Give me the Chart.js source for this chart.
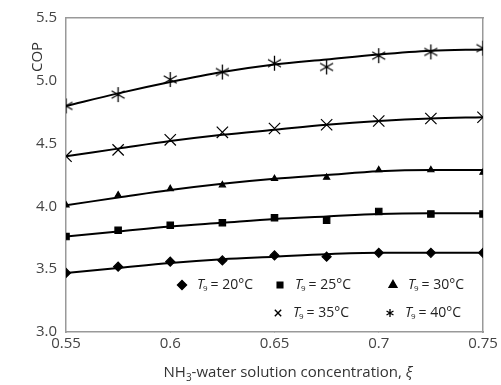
<!DOCTYPE html>
<html>
<head>
<meta charset="utf-8">
<script src="https://cdn.jsdelivr.net/npm/chart.js@4/dist/chart.umd.min.js"></script>
<style>
  body { margin: 0; background: #fff; }
  #wrap { width: 501px; height: 385px; }
</style>
</head>
<body>
<div id="wrap"><canvas id="myChart" width="501" height="385"></canvas></div>
<script>
// concentration values (x)
let xi = [0.55, 0.575, 0.6, 0.625, 0.65, 0.675, 0.7, 0.725, 0.75];

// measured COP points for each T9
let cop20 = [3.47, 3.52, 3.56, 3.57, 3.61, 3.60, 3.63, 3.63, 3.63];
let cop25 = [3.76, 3.81, 3.85, 3.87, 3.91, 3.89, 3.96, 3.94, 3.94];
let cop30 = [4.01, 4.09, 4.14, 4.17, 4.22, 4.23, 4.29, 4.29, 4.27];
let cop35 = [4.40, 4.45, 4.53, 4.59, 4.62, 4.65, 4.68, 4.70, 4.71];
let cop40 = [4.80, 4.89, 5.01, 5.07, 5.14, 5.11, 5.20, 5.23, 5.26];

// trend lines
let fit20 = [3.47, 3.51, 3.55, 3.58, 3.60, 3.62, 3.63, 3.63, 3.63];
let fit25 = [3.76, 3.80, 3.84, 3.87, 3.90, 3.92, 3.94, 3.945, 3.945];
let fit30 = [4.01, 4.07, 4.13, 4.18, 4.22, 4.25, 4.28, 4.29, 4.29];
let fit35 = [4.40, 4.46, 4.52, 4.57, 4.61, 4.65, 4.68, 4.70, 4.71];
let fit40 = [4.80, 4.90, 4.99, 5.07, 5.13, 5.17, 5.21, 5.24, 5.25];

let legendLabels = ["20°C", "25°C", "30°C", "35°C", "40°C"];
let yTicks = [3.0, 3.5, 4.0, 4.5, 5.0, 5.5];

// 6-armed asterisk marker
function asterisk(size) {
    let c = document.createElement('canvas');
    c.width = size; c.height = size;
    let g = c.getContext('2d');
    let m = size / 2, r = size / 2 - 1;
    g.strokeStyle = '#000';
    g.lineWidth = 1.3;
    g.beginPath();
    for (let a of [90, 30, 150]) {
        let t = a * Math.PI / 180;
        g.moveTo(m - r * Math.cos(t), m - r * Math.sin(t));
        g.lineTo(m + r * Math.cos(t), m + r * Math.sin(t));
    }
    g.stroke();
    return c;
}
let starImg = asterisk(17);
let starSmall = asterisk(10);

function pts(ys) {
    return xi.map((x, i) => ({x: x, y: ys[i]}));
}

function markers(ys, style, radius) {
    return {
        data: pts(ys),
        showLine: false,
        pointStyle: style,
        pointRadius: radius,
        pointBorderColor: '#000',
        pointBackgroundColor: '#000',
        pointBorderWidth: 1.2
    };
}

function fitLine(ys) {
    return {
        type: 'line',
        data: pts(ys),
        borderColor: '#000',
        borderWidth: 2,
        pointRadius: 0,
        cubicInterpolationMode: 'monotone',
        fill: false
    };
}

let canvas = document.getElementById("myChart")
let ctx = canvas.getContext("2d")

// axis titles and the custom legend
let extras = {
    id: 'extras',
    afterDraw(chart) {
        let g = chart.ctx;
        g.save();
        g.fillStyle = '#333';
        g.font = '15px "Open Sans", "Noto Sans", sans-serif';
        g.textAlign = 'center';
        g.textBaseline = 'middle';
        // x title with subscript
        let parts = ['NH', '3', '-water solution concentration, ', 'ξ'];
        let wNH = g.measureText('NH').width;
        g.font = '10px "Open Sans", "Noto Sans", sans-serif';
        let w3 = g.measureText('3').width;
        g.font = '15px "Open Sans", "Noto Sans", sans-serif';
        let wRest = g.measureText(parts[2]).width;
        g.font = 'italic 15px "Open Sans", "Noto Sans", sans-serif';
        let wXi = g.measureText('ξ').width;
        let total = wNH + w3 + wRest + wXi;
        let x0 = 288 - total / 2, yT = 373;
        g.textAlign = 'left';
        g.font = '15px "Open Sans", "Noto Sans", sans-serif';
        g.fillText('NH', x0, yT);
        g.font = '10px "Open Sans", "Noto Sans", sans-serif';
        g.fillText('3', x0 + wNH, yT + 5);
        g.font = '15px "Open Sans", "Noto Sans", sans-serif';
        g.fillText(parts[2], x0 + wNH + w3, yT);
        g.font = 'italic 15px "Open Sans", "Noto Sans", sans-serif';
        g.fillText('ξ', x0 + wNH + w3 + wRest, yT);

        // y title
        g.save();
        g.translate(38, 57);
        g.rotate(-Math.PI / 2);
        g.textAlign = 'center';
        g.font = '15px "Open Sans", "Noto Sans", sans-serif';
        g.fillText('COP', 0, 0);
        g.restore();

        // legend
        let items = [
            {x: 182, y: 285, s: 'rectRot'},
            {x: 280, y: 285, s: 'rect'},
            {x: 393, y: 285, s: 'triangle'},
            {x: 278, y: 313, s: 'crossRot'},
            {x: 390, y: 313, s: 'star'}
        ];
        items.forEach((it, i) => {
            g.fillStyle = '#000';
            g.strokeStyle = '#000';
            g.lineWidth = 1.4;
            if (it.s === 'star') {
                g.drawImage(starSmall, it.x - 5, it.y - 5);
            } else {
                Chart.helpers.drawPoint(g, {pointStyle: it.s, radius: it.s === 'rect' ? 4 : 4.5, borderWidth: 1}, it.x, it.y);
                if (it.s !== 'crossRot') g.fill();
            }
            let tx = it.x + 15;
            g.fillStyle = '#222';
            g.textAlign = 'left';
            g.font = 'italic 14px "Open Sans", "Noto Sans", sans-serif';
            g.fillText('T', tx, it.y);
            let wT = g.measureText('T').width;
            g.font = '8px "Open Sans", "Noto Sans", sans-serif';
            g.fillText('9', tx + wT - 1, it.y + 4);
            g.font = '14px "Open Sans", "Noto Sans", sans-serif';
            g.fillText(' = ' + legendLabels[i], tx + wT + 3, it.y);
        });
        g.restore();
    }
};

let myChart = new Chart(ctx, {
    type: 'scatter',
    data: {
        datasets: [
            fitLine(fit20), fitLine(fit25), fitLine(fit30), fitLine(fit35), fitLine(fit40),
            markers(cop20, 'rectRot', 4.5),
            markers(cop25, 'rect', 4.5),
            markers(cop30, 'triangle', 3.5),
            markers(cop35, 'crossRot', 8),
            markers(cop40, starImg, 8)
        ]
    },
    options: {
        responsive: false,
        animation: false,
        layout: { padding: { left: 0, top: 14, right: 18, bottom: 0 } },
        plugins: { legend: { display: false }, tooltip: { enabled: false } },
        scales: {
            x: {
                type: 'linear',
                min: 0.55,
                max: 0.75,
                afterFit(s) { s.height = 53; },
                afterBuildTicks(s) { s.ticks = xi.filter((v, i) => i % 2 === 0).map(v => ({value: v})); },
                ticks: {
                    color: '#444',
                    font: { family: '"Open Sans", "Noto Sans", sans-serif', size: 15 },
                    padding: 3,
                    callback: v => parseFloat(v.toFixed(2)).toString()
                },
                grid: { display: true, drawOnChartArea: false, tickLength: 0, color: '#999' },
                border: { color: '#999', width: 1.5 }
            },
            y: {
                min: 3,
                max: 5.5,
                afterFit(s) { s.width = 66; },
                afterBuildTicks(s) { s.ticks = yTicks.map(v => ({value: v})); },
                ticks: {
                    color: '#444',
                    font: { family: '"Open Sans", "Noto Sans", sans-serif', size: 15 },
                    padding: 9,
                    callback: v => v.toFixed(1)
                },
                grid: { display: true, drawOnChartArea: false, tickLength: 0, color: '#999' },
                border: { color: '#999', width: 1.5 }
            },
            x2: {
                type: 'linear', position: 'top', min: 0.55, max: 0.75,
                afterFit(s) { s.height = 0; },
                ticks: { display: false },
                grid: { display: false },
                border: { color: '#999', width: 1.5 }
            },
            y2: {
                position: 'right', min: 3, max: 5.5,
                afterFit(s) { s.width = 0; },
                ticks: { display: false },
                grid: { display: false },
                border: { color: '#999', width: 1.5 }
            }
        }
    },
    plugins: [extras]
});
</script>
</body>
</html>
